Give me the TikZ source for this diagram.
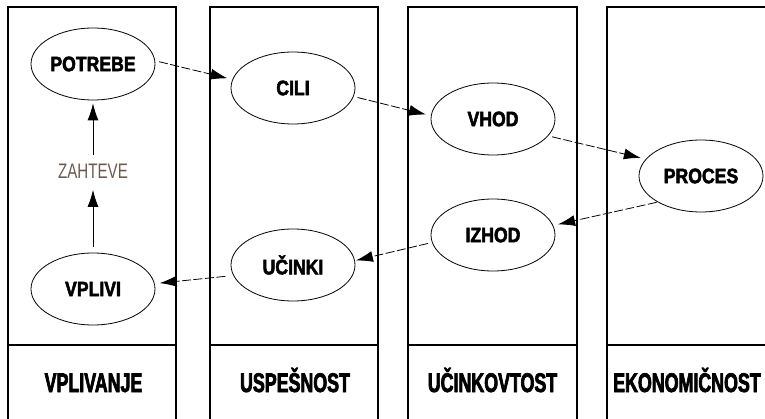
\documentclass[tikz,border=0pt]{standalone}
\usepackage{fontspec}
\setmainfont{Liberation Sans}
\newfontfamily\ovalfont[FakeStretch=0.84,FakeBold=2.5]{Liberation Sans}
\newfontfamily\headfont[FakeStretch=0.66,FakeBold=2.5]{Liberation Sans}
\newfontfamily\notefont[FakeStretch=0.72]{Liberation Sans}
\usetikzlibrary{arrows.meta,shapes.geometric}
\definecolor{notegray}{HTML}{6B5A50}
\begin{document}
\begin{tikzpicture}[x=1pt,y=-1pt,
  oval/.style={ellipse,draw,line width=0.8pt,minimum width=124pt,minimum height=72pt,
    inner sep=0pt,font=\ovalfont\bfseries\fontsize{21}{21}\selectfont},
  colline/.style={line width=1.1pt},
  head/.style={anchor=base,inner sep=0pt,font=\headfont\bfseries\fontsize{27}{27}\selectfont},
  note/.style={inner sep=0pt,text=notegray,font=\notefont\fontsize{21}{21}\selectfont},
  flow/.style={line width=0.8pt,dash pattern=on 9pt off 2.5pt,
    -{Latex[length=17pt,width=11pt]},shorten <=4pt,shorten >=5pt},
  rise/.style={line width=0.8pt,-{Latex[length=17pt,width=11pt]}}]
\useasboundingbox (0,0) rectangle (765,419);
\clip (0,0) rectangle (765,419);

% four columns with a header row at the bottom
\draw[colline] (8,430) -- (8,7) -- (176,7) -- (176,430);
\draw[colline] (210,430) -- (210,7) -- (378,7) -- (378,430);
\draw[colline] (408,430) -- (408,7) -- (577,7) -- (577,430);
\draw[colline] (607,430) -- (607,7) -- (780,7);
\draw[colline] (8,345) -- (176,345);
\draw[colline] (210,345) -- (378,345);
\draw[colline] (408,345) -- (577,345);
\draw[colline] (607,345) -- (780,345);

% column headers
\node[head] (h1) at (93.5,392) {VPLIVANJE};
\node[head] (h2) at (295,392) {USPEŠNOST};
\node[head] (h3) at (492.5,392) {UČINKOVTOST};
\node[head,anchor=base west] (h4) at (613,392) {EKONOMIČNOST};

% process stages
\node[oval] (potrebe) at (93,64) {POTREBE};
\node[oval] (cili) at (293,88) {CILI};
\node[oval] (vhod) at (493,119) {VHOD};
\node[oval] (proces) at (701,176) {PROCES};
\node[oval] (izhod) at (493,235) {IZHOD};
\node[oval] (ucinki) at (293,265) {UČINKI};
\node[oval] (vplivi) at (93,289) {VPLIVI};
\node[note] (zahteve) at (93,171.5) {ZAHTEVE};

% flow through the stages
\draw[flow] (potrebe.3) -- (cili.172);
\draw[flow] (cili.-8) -- (vhod.177);
\draw[flow] (vhod.-17) -- (proces.163);
\draw[flow,shorten <=1pt] (proces.211) -- (izhod.9);
\draw[flow,shorten >=1pt] (izhod.187) -- (ucinki.4);
\draw[flow,shorten <=8pt] (ucinki.190) -- (vplivi.5);

% feedback from effects to needs
\draw[rise,shorten <=6pt,shorten >=11pt] (vplivi.north) -- (zahteve.south);
\draw[rise,shorten <=9pt,shorten >=3pt] (zahteve.north) -- (potrebe.south);
\end{tikzpicture}
\end{document}
